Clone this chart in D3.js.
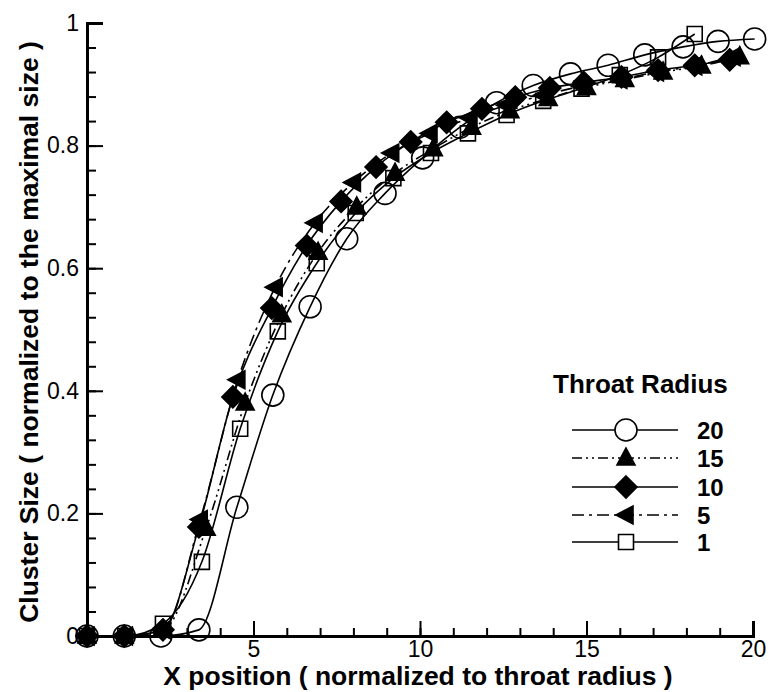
<!DOCTYPE html>
<html>
<head>
<meta charset="utf-8">
<script src="https://cdn.jsdelivr.net/npm/d3@7"></script>
<style>
  body { margin: 0; background: #fff; }
  svg { display: block; font-family: 'Liberation Sans', Arial, sans-serif; }
</style>
</head>
<body>
<div id="chart"></div>
<script>
// legend / series names
var seriesNames = ['20', '15', '10', '5', '1'];

// Throat radius 20 (circles)
var x20 = [0, 1.12, 2.22, 3.36, 4.5, 5.58, 6.7, 7.8, 8.95, 10.08, 11.2, 12.3, 13.4, 14.52, 15.65, 16.75, 17.9, 18.95, 20.05];
var y20 = [0, 0, 0, 0.01, 0.21, 0.393, 0.537, 0.648, 0.722, 0.78, 0.83, 0.87, 0.898, 0.917, 0.931, 0.948, 0.961, 0.97, 0.974];

// Throat radius 15 (up triangles)
var x15 = [0, 1.12, 2.3, 3.58, 4.75, 5.85, 6.94, 8.1, 9.25, 10.4, 11.55, 12.7, 13.85, 15.0, 16.15, 17.3, 18.45, 19.6];
var y15 = [0, 0, 0.01, 0.176, 0.38, 0.524, 0.626, 0.7, 0.755, 0.795, 0.83, 0.857, 0.877, 0.895, 0.908, 0.92, 0.93, 0.945];

// Throat radius 10 (diamonds)
var x10 = [0, 1.12, 2.28, 3.36, 4.38, 5.55, 6.6, 7.63, 8.68, 9.72, 10.8, 11.86, 12.86, 13.9, 14.92, 16.05, 17.15, 18.25, 19.3];
var y10 = [0, 0, 0.01, 0.178, 0.39, 0.535, 0.637, 0.709, 0.765, 0.806, 0.838, 0.86, 0.879, 0.894, 0.903, 0.912, 0.923, 0.931, 0.94];

// Throat radius 5 (left triangles)
var x5 = [0, 1.15, 2.3, 3.4, 4.53, 5.65, 6.85, 8.0, 9.15, 10.3, 11.5, 12.6, 13.7, 14.85, 16.0, 17.1, 18.25, 19.4];
var y5 = [0, 0, 0.01, 0.19, 0.418, 0.569, 0.674, 0.74, 0.788, 0.82, 0.845, 0.866, 0.882, 0.897, 0.908, 0.92, 0.93, 0.945];

// Throat radius 1 (squares)
var x1 = [0, 1.15, 2.28, 3.45, 4.6, 5.73, 6.9, 8.07, 9.2, 10.33, 11.44, 12.6, 13.7, 14.85, 16.0, 17.15, 18.25];
var y1 = [0, 0, 0.02, 0.121, 0.338, 0.497, 0.608, 0.69, 0.747, 0.788, 0.82, 0.85, 0.873, 0.893, 0.915, 0.944, 0.982];

// tick labels
var xTickLabels = [5, 10, 15, 20];
var yTickLabels = [0, 0.2, 0.4, 0.6, 0.8, 1];

var width = 769, height = 692;

var series = [
    { name: seriesNames[0], xs: x20, ys: y20, marker: 'circle', dash: null },
    { name: seriesNames[1], xs: x15, ys: y15, marker: 'triUp', dash: '10,4,2,4,2,4' },
    { name: seriesNames[2], xs: x10, ys: y10, marker: 'diamond', dash: null },
    { name: seriesNames[3], xs: x5, ys: y5, marker: 'triLeft', dash: '12,5,3,5' },
    { name: seriesNames[4], xs: x1, ys: y1, marker: 'square', dash: null }
];

var svg = d3.select('#chart').append('svg')
    .attr('width', width)
    .attr('height', height);

svg.append('rect').attr('width', width).attr('height', height).attr('fill', '#fff');

// scales
var x = d3.scaleLinear().domain([0, 20]).range([87, 753]);
var y = d3.scaleLinear().domain([0, 1]).range([636, 23]);

// marker path generator, centred on 0,0
function markerPath(type) {
    if (type === 'circle') return d3.symbol().type(d3.symbolCircle).size(Math.PI * 11 * 11)();
    if (type === 'square') return 'M-7.5,-7.5H7.5V7.5H-7.5Z';
    if (type === 'diamond') return 'M0,-11L11,0L0,11L-11,0Z';
    if (type === 'triUp') return 'M0,-10L9,7L-9,7Z';
    if (type === 'triLeft') return 'M-10,0L7,-9L7,9Z';
}
function markerFill(type) {
    return (type === 'circle' || type === 'square') ? 'none' : '#000';
}

// curves
var line = d3.line()
    .x(function (d) { return x(d[0]); })
    .y(function (d) { return y(d[1]); })
    .curve(d3.curveMonotoneX);

var plot = svg.append('g');

series.forEach(function (s) {
    var pts = s.xs.map(function (v, i) { return [v, s.ys[i]]; });
    var g = plot.append('g');
    g.append('path')
        .attr('d', line(pts))
        .attr('fill', 'none')
        .attr('stroke', '#000')
        .attr('stroke-width', 1.6)
        .attr('stroke-dasharray', s.dash);
    g.selectAll('.m')
        .data(pts)
        .enter()
        .append('path')
        .attr('transform', function (d) { return 'translate(' + x(d[0]) + ',' + y(d[1]) + ')'; })
        .attr('d', markerPath(s.marker))
        .attr('fill', markerFill(s.marker))
        .attr('stroke', '#000')
        .attr('stroke-width', 1.6);
});

// axes: minor ticks then major ticks (ticks pointing inward)
var xMinor = d3.axisBottom(x).tickValues(d3.range(0, 21, 1)).tickSize(-8).tickFormat('');
var xMajor = d3.axisBottom(x).tickValues(xTickLabels).tickSize(-15).tickPadding(5).tickFormat(d3.format('d'));
var yMinor = d3.axisLeft(y).tickValues(d3.range(0, 1.001, 0.04)).tickSize(-9).tickFormat('');
var yMajor = d3.axisLeft(y).tickValues(yTickLabels).tickSize(-16).tickPadding(8).tickFormat(function (d) { return d; });

function styleAxis(g) {
    g.select('.domain').attr('stroke-width', 3).attr('stroke', '#000');
    g.selectAll('.tick line').attr('stroke-width', 2).attr('stroke', '#000');
    g.selectAll('.tick text').attr('font-size', 23).attr('fill', '#000')
        .attr('font-family', "'Liberation Sans', Arial, sans-serif");
}

svg.append('g').attr('transform', 'translate(0,636)').call(xMinor).call(styleAxis);
svg.append('g').attr('transform', 'translate(0,636)').call(xMajor).call(styleAxis);
svg.append('g').attr('transform', 'translate(87,0)').call(yMinor).call(styleAxis);
svg.append('g').attr('transform', 'translate(87,0)').call(yMajor).call(styleAxis);

// axis titles
svg.append('text')
    .attr('x', 418)
    .attr('y', 685)
    .attr('text-anchor', 'middle')
    .attr('font-size', 26.5)
    .attr('font-weight', 'bold')
    .text('X position ( normalized to throat radius )');

svg.append('text')
    .attr('transform', 'translate(38,332) rotate(-90)')
    .attr('text-anchor', 'middle')
    .attr('font-size', 26.5)
    .attr('font-weight', 'bold')
    .text('Cluster Size ( normalized to the maximal size )');

// legend
var legend = svg.append('g');
legend.append('text')
    .attr('x', 553)
    .attr('y', 393)
    .attr('font-size', 26)
    .attr('font-weight', 'bold')
    .text('Throat Radius');

var rowY = [430, 458, 487, 515, 542];
series.forEach(function (s, i) {
    var r = legend.append('g').attr('transform', 'translate(0,' + rowY[i] + ')');
    r.append('line')
        .attr('x1', 572).attr('x2', 678)
        .attr('stroke', '#000')
        .attr('stroke-width', 1.6)
        .attr('stroke-dasharray', s.dash);
    r.append('path')
        .attr('transform', 'translate(626,0)')
        .attr('d', markerPath(s.marker))
        .attr('fill', s.marker === 'circle' || s.marker === 'square' ? '#fff' : '#000')
        .attr('stroke', '#000')
        .attr('stroke-width', 1.6);
    r.append('text')
        .attr('x', 697)
        .attr('y', 9)
        .attr('font-size', 24)
        .attr('font-weight', 'bold')
        .text(s.name);
});
</script>
</body>
</html>
